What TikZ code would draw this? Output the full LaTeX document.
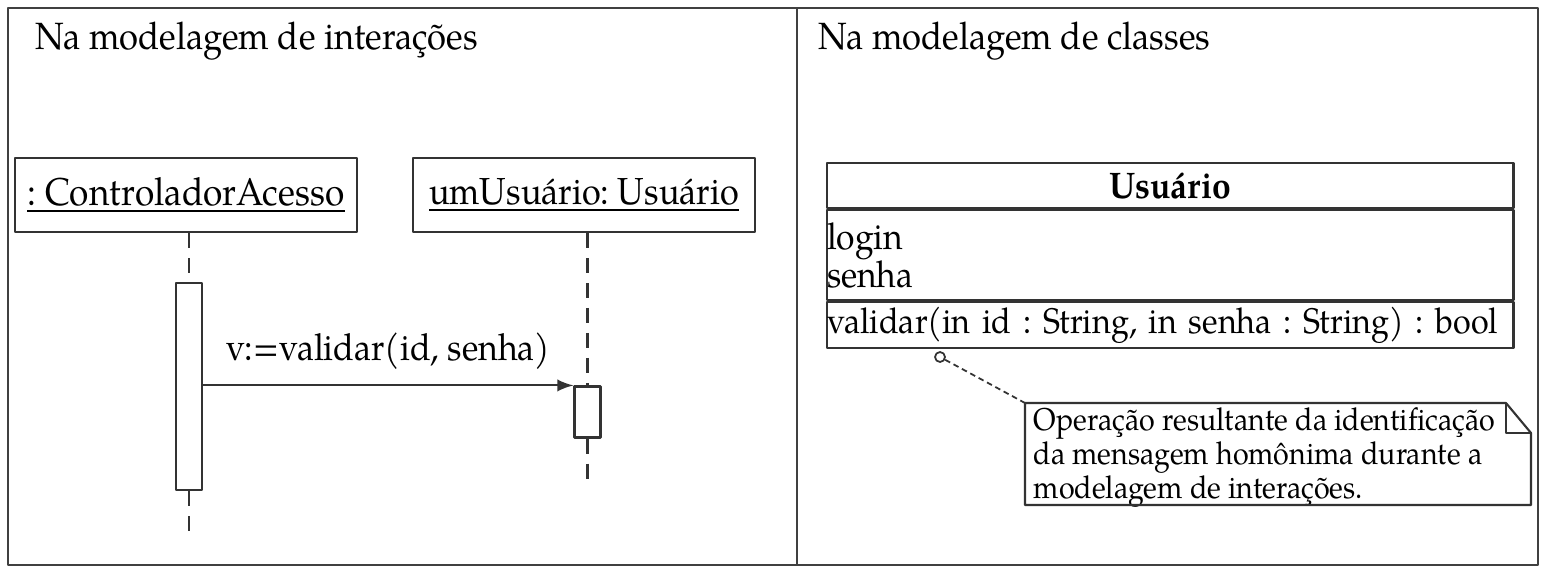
\documentclass[tikz,border=0pt]{standalone}
\usepackage{fontspec}
\setmainfont{texgyrepagella}[Extension=.otf, UprightFont=*-regular, BoldFont=*-bold, ItalicFont=*-italic, BoldItalicFont=*-bolditalic, FakeStretch=0.91]
\frenchspacing
\usetikzlibrary{positioning}
\tikzset{>=latex}
\tikzset{
    frame/.style={draw=black!75, line width=0.8pt},
    title/.style={anchor=base west, inner sep=0pt, font=\fontsize{10.8}{13}\selectfont},
    lifebox/.style={draw=black!80, line width=0.6pt, minimum width=3.42cm, minimum height=0.74cm, inner sep=0pt},
    activation/.style={draw=black!80, line width=0.6pt, fill=white, minimum width=0.26cm, inner sep=0pt},
    lifeline/.style={black!80, line width=0.6pt, dash pattern=on 4.3pt off 2.8pt},
    classpart/.style={draw=black!80, line width=0.6pt, text width=6.86cm, inner sep=0pt, font=\fontsize{10.5}{10.8}\selectfont},
    notetext/.style={inner sep=0pt, align=left, font=\fontsize{8.95}{9.6}\selectfont}
}

\begin{document}
\begin{tikzpicture}[x=0.01cm, y=-0.01cm, line join = round]
    \useasboundingbox (0,0) rectangle (1543,570);
    \draw[frame] (8,8) rectangle (1538,565);
    \draw[frame] (797,8) -- (797,565);
    \node[title] (titleleft) at (35,50) {Na modelagem de interações};
    \node[title] (titleright) at (818,50) {Na modelagem de classes};

    % sequence diagram
    \node[lifebox, font=\fontsize{11}{12}\selectfont] (ctrl) at (186,195) {\underline{: ControladorAcesso}};
    \node[lifebox, font=\fontsize{10.7}{12}\selectfont] (usr) at (584,195) {\underline{umUsuário: Usuário}};
    \node[activation, minimum height=2.07cm] (act1) at (189,386.5) {};
    \node[activation, minimum height=0.51cm] (act2) at (587.5,412) {};
    \coordinate (ctrlend) at (189,538);
    \coordinate (usrend) at (587.5,483);
    \draw[lifeline] (act1.north |- ctrl.south) -- (act1.north);
    \draw[lifeline] (act1.south) -- (ctrlend);
    \draw[lifeline] (act2.north |- usr.south) -- (act2.north);
    \draw[lifeline] (act2.south) -- (usrend);
    \draw[->, black!80, line width=0.6pt] (act1.east |- act2.north) -- node[above=0.8pt, text=black, font=\fontsize{10.6}{12}\selectfont] {v:=validar(id, senha)} (act2.north west);

    % class
    \node[classpart, align=center, minimum height=0.45cm, anchor=north west] (clsname) at (826,162) {\textbf{Usuário}};
    \node[classpart, align=left, minimum height=0.90cm, below=0pt of clsname] (clsattr) {login\\senha};
    \node[classpart, align=left, minimum height=0.46cm, below=0pt of clsattr, font=\fontsize{10.1}{11}\selectfont] (clsops) {\mbox{validar(in id : String, in senha : String) : bool}};

    % note
    \node[notetext, anchor=north west] (note) at (1033,407) {Operação resultante da identificação\\da mensagem homônima durante a\\modelagem de interações.};
    \coordinate (notenw) at (1025,403);
    \coordinate (notese) at (1531,505);
    \coordinate (fold) at (1506,433);
    \draw[black!80, line width=0.6pt] (notenw) -- (fold |- notenw) -- (notese |- fold) -- (notese) -- (notenw |- notese) -- cycle;
    \draw[black!80, line width=0.6pt] (fold |- notenw) -- (fold) -- (notese |- fold);
    \node[circle, draw=black!80, line width=0.5pt, inner sep=0pt, minimum size=0.1cm] (notepin) at (940,357) {};
    \draw[black!80, line width=0.5pt, dash pattern=on 1.6pt off 1.1pt] (notepin) -- (notenw);
\end{tikzpicture}
\end{document}
